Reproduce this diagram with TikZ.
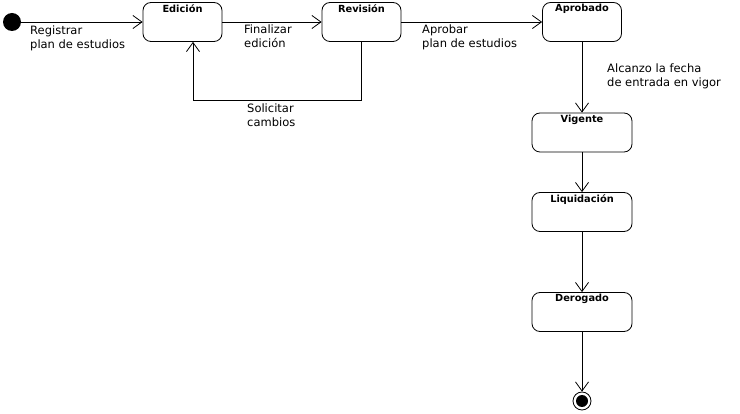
\documentclass[tikz,border=0pt]{standalone}
\usepackage{fontspec}
\setmainfont{DejaVu Sans}
\usetikzlibrary{arrows.meta}

\begin{document}
\begin{tikzpicture}[
    x=1pt, y=-1pt,
    state/.style={
        rectangle, draw, rounded corners=8pt, line width=0.8pt,
        minimum width=79pt, minimum height=39pt, inner sep=0pt
    },
    wide/.style={minimum width=100pt},
    title/.style={font=\bfseries\fontsize{9.8}{11}\selectfont, anchor=north, inner sep=2pt},
    arrow/.style={-{Straight Barb[length=9pt, width=13pt]}, line width=0.8pt},
    lbl/.style={font=\fontsize{11.5}{14}\selectfont, align=left, anchor=north west, inner sep=0pt}
]
\useasboundingbox (0,0) rectangle (740,414);

% Estados
\node[circle, fill, minimum size=18pt, inner sep=0pt] (ini) at (12,22) {};
\node[state, label={[title]north:Edición}] (edic) at (182.5,22) {};
\node[state, label={[title]north:Revisión}] (rev) at (361.5,22) {};
\node[state, label={[title]north:Aprobado}] (aprob) at (582,22) {};
\node[state, wide, label={[title]north:Vigente}] (vig) at (582,132.5) {};
\node[state, wide, label={[title]north:Liquidación}] (liq) at (582,212) {};
\node[state, wide, label={[title]north:Derogado}] (derog) at (582,312) {};
\node[circle, draw, line width=0.8pt, minimum size=18pt, inner sep=0pt] (fin) at (582,401) {};
\node[circle, fill, minimum size=12pt, inner sep=0pt] (finin) at (fin) {};

% Etiquetas
\node[lbl] (lreg) at (30,26) {Registrar\\plan de estudios};
\node[lbl] (lfin) at (244,25) {Finalizar\\edición};
\node[lbl] (lapr) at (422,25) {Aprobar\\plan de estudios};
\node[lbl] (lalc) at (607,64) {Alcanzo la fecha\\de entrada en vigor};
\node[lbl] (lsol) at (247,104) {Solicitar\\cambios};

% Transiciones
\draw[arrow] (ini) -- (edic);
\draw[arrow] (edic) -- (rev);
\draw[arrow] (rev) -- (aprob);
\draw[arrow] (rev.south) -- ++(0,59) -| ([xshift=10.5pt]edic.south);
\draw[arrow] (aprob) -- (vig);
\draw[arrow] (vig) -- (liq);
\draw[arrow] (liq) -- (derog);
\draw[arrow] (derog) -- (fin);

\end{tikzpicture}
\end{document}
